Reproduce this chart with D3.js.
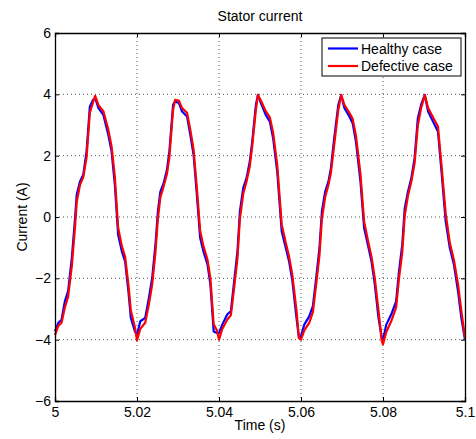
<!DOCTYPE html>
<html>
<head>
<meta charset="utf-8">
<script src="https://cdn.jsdelivr.net/npm/d3@7"></script>
<style>
  body { margin: 0; background: #fff; }
  svg text { font-family: "Liberation Sans", Arial, sans-serif; fill: #000; }
</style>
</head>
<body>
<div id="chart"></div>
<script>
////////// dados

const time = [
  5.0000, 5.0008, 5.0016, 5.0024, 5.0032, 5.0041, 5.0049, 5.0053, 5.0061, 5.0069, 5.0077, 5.0085, 5.0093, 5.0098, 5.0106, 5.0118, 5.0130, 5.0138, 5.0146, 5.0154, 5.0163, 5.0171, 5.0179, 5.0185, 5.0195,
  5.0200, 5.0208, 5.0220, 5.0229, 5.0237, 5.0245, 5.0251, 5.0257, 5.0265, 5.0273, 5.0279, 5.0288, 5.0293, 5.0302, 5.0310, 5.0322, 5.0330, 5.0338, 5.0346, 5.0354, 5.0362, 5.0372, 5.0379, 5.0387, 5.0395,
  5.0400, 5.0408, 5.0420, 5.0429, 5.0437, 5.0445, 5.0451, 5.0459, 5.0467, 5.0475, 5.0481, 5.0490, 5.0495, 5.0502, 5.0514, 5.0524, 5.0532, 5.0542, 5.0553, 5.0563, 5.0571, 5.0579, 5.0589, 5.0595,
  5.0600, 5.0608, 5.0620, 5.0629, 5.0637, 5.0645, 5.0651, 5.0659, 5.0667, 5.0673, 5.0681, 5.0691, 5.0698, 5.0706, 5.0718, 5.0726, 5.0734, 5.0745, 5.0754, 5.0763, 5.0772, 5.0780, 5.0789, 5.0797,
  5.0800, 5.0808, 5.0820, 5.0832, 5.0839, 5.0847, 5.0853, 5.0861, 5.0869, 5.0877, 5.0885, 5.0893, 5.0902, 5.0910, 5.0922, 5.0934, 5.0942, 5.0953, 5.0963, 5.0973, 5.0983, 5.0991, 5.1000
];

const healthy = [
  -3.73, -3.45, -3.35, -2.75, -2.42, -1.34, -0.03, 0.73, 1.16, 1.38, 2.14, 3.60, 3.82, 3.88, 3.55, 3.33, 2.68, 2.14, 1.05, -0.58, -1.12, -1.45, -2.42, -3.29, -3.73,
  -3.85, -3.40, -3.29, -2.64, -1.99, -0.90, 0.18, 0.83, 1.10, 1.54, 2.14, 3.66, 3.77, 3.72, 3.44, 3.28, 2.68, 2.03, 0.73, -0.68, -1.12, -1.55, -2.20, -3.73, -3.78,
  -3.78, -3.51, -3.18, -3.07, -2.09, -1.12, 0.18, 0.94, 1.26, 1.80, 2.45, 3.66, 3.98, 3.72, 3.33, 3.11, 2.57, 1.48, -0.47, -1.01, -1.45, -2.09, -3.29, -3.94,
  -3.89, -3.51, -3.24, -2.91, -1.99, -1.01, 0.18, 0.83, 1.16, 1.59, 2.57, 3.66, 3.98, 3.55, 3.28, 3.06, 2.46, 1.16, -0.36, -0.90, -1.45, -2.20, -3.29, -3.94,
  -4.00, -3.51, -3.18, -2.75, -1.77, -0.90, 0.29, 0.83, 1.26, 1.91, 3.22, 3.66, 3.98, 3.44, 3.11, 2.79, 1.59, -0.15, -1.01, -1.55, -2.42, -3.29, -4.00
];

const defective = [
  -3.85, -3.55, -3.45, -2.95, -2.60, -1.60, -0.30, 0.50, 1.05, 1.30, 1.95, 3.40, 3.75, 3.95, 3.65, 3.45, 2.85, 2.30, 1.30, -0.35, -0.95, -1.30, -2.20, -3.05, -3.60,
  -4.02, -3.65, -3.45, -2.85, -2.20, -1.15, -0.05, 0.65, 1.00, 1.40, 1.95, 3.50, 3.82, 3.80, 3.55, 3.40, 2.85, 2.20, 0.95, -0.45, -0.95, -1.40, -2.00, -3.50, -3.70,
  -4.00, -3.65, -3.35, -3.20, -2.30, -1.35, -0.05, 0.75, 1.15, 1.65, 2.30, 3.50, 3.98, 3.80, 3.45, 3.25, 2.75, 1.70, -0.25, -0.85, -1.30, -1.90, -3.05, -3.95,
  -4.00, -3.70, -3.45, -3.10, -2.20, -1.25, -0.05, 0.65, 1.05, 1.45, 2.35, 3.50, 3.98, 3.65, 3.40, 3.20, 2.65, 1.40, -0.15, -0.75, -1.30, -2.00, -3.05, -4.05,
  -4.15, -3.75, -3.40, -2.95, -2.00, -1.15, 0.05, 0.70, 1.15, 1.75, 3.00, 3.55, 3.98, 3.55, 3.25, 2.95, 1.80, 0.10, -0.85, -1.40, -2.20, -3.05, -3.95
];

const xTicks = [5, 5.02, 5.04, 5.06, 5.08, 5.1];
const xTickLabels = ['5', '5.02', '5.04', '5.06', '5.08', '5.1'];
const yTicks = [-6, -4, -2, 0, 2, 4, 6];
const yTickLabels = ['\u22126', '\u22124', '\u22122', '0', '2', '4', '6'];
const seriesNames = ['Healthy case', 'Defective case'];
const seriesColors = ['#0000ff', '#ff0000'];

////////// layout

const W = 476, H = 439;
const mLeft = 55, mRight = 465, mTop = 33, mBottom = 401;
const fontSize = 14;

const svg = d3.select('#chart')
  .append('svg')
  .attr('width', W)
  .attr('height', H);

const x = d3.scaleLinear().domain([5, 5.1]).range([mLeft, mRight]);
const y = d3.scaleLinear().domain([-6, 6]).range([mBottom, mTop]);

// grade pontilhada
svg.append('g')
  .selectAll('line')
  .data(xTicks.slice(1, -1))
  .join('line')
  .attr('x1', d => x(d)).attr('x2', d => x(d))
  .attr('y1', mTop).attr('y2', mBottom)
  .attr('stroke', '#555')
  .attr('stroke-width', 1)
  .attr('stroke-dasharray', '1,3');

svg.append('g')
  .selectAll('line')
  .data(yTicks.slice(1, -1))
  .join('line')
  .attr('x1', mLeft).attr('x2', mRight)
  .attr('y1', d => y(d)).attr('y2', d => y(d))
  .attr('stroke', '#555')
  .attr('stroke-width', 1)
  .attr('stroke-dasharray', '1,3');

// curvas
const series = [healthy, defective];
const line = d3.line()
  .x((d, i) => x(time[i]))
  .y(d => y(d));

svg.append('g')
  .selectAll('path')
  .data(series)
  .join('path')
  .attr('d', d => line(d))
  .attr('fill', 'none')
  .attr('stroke', (d, i) => seriesColors[i])
  .attr('stroke-width', 2.2)
  .attr('stroke-linejoin', 'round');

// eixos (caixa estilo matlab, ticks para dentro)
const xAxisB = d3.axisBottom(x).tickValues(xTicks).tickSize(-4).tickPadding(6)
  .tickFormat((d, i) => xTickLabels[i]);
const xAxisT = d3.axisTop(x).tickValues(xTicks).tickSize(-4).tickFormat('');
const yAxisL = d3.axisLeft(y).tickValues(yTicks).tickSize(-4).tickPadding(4)
  .tickFormat((d, i) => yTickLabels[i]);
const yAxisR = d3.axisRight(y).tickValues(yTicks).tickSize(-4).tickFormat('');

function styleAxis(g) {
  g.select('.domain').attr('stroke', '#000').attr('stroke-width', 1.3);
  g.selectAll('.tick line').attr('stroke', '#000');
  g.selectAll('.tick text')
    .attr('font-family', '"Liberation Sans", Arial, sans-serif')
    .attr('font-size', fontSize)
    .attr('fill', '#000');
}

svg.append('g').attr('transform', `translate(0,${mBottom})`).call(xAxisB).call(styleAxis);
svg.append('g').attr('transform', `translate(0,${mTop})`).call(xAxisT).call(styleAxis);
svg.append('g').attr('transform', `translate(${mLeft},0)`).call(yAxisL).call(styleAxis);
svg.append('g').attr('transform', `translate(${mRight},0)`).call(yAxisR).call(styleAxis);

// titulo e rotulos
svg.append('text')
  .attr('x', (mLeft + mRight) / 2)
  .attr('y', 21)
  .attr('text-anchor', 'middle')
  .attr('font-size', fontSize)
  .text('Stator current');

svg.append('text')
  .attr('x', (mLeft + mRight) / 2)
  .attr('y', 430)
  .attr('text-anchor', 'middle')
  .attr('font-size', fontSize)
  .text('Time (s)');

svg.append('text')
  .attr('transform', `translate(27,${(mTop + mBottom) / 2}) rotate(-90)`)
  .attr('text-anchor', 'middle')
  .attr('font-size', fontSize)
  .text('Current (A)');

// legenda
const legend = svg.append('g').attr('transform', 'translate(322,38)');

legend.append('rect')
  .attr('width', 139)
  .attr('height', 38)
  .attr('fill', '#fff')
  .attr('stroke', '#000')
  .attr('stroke-width', 1);

seriesNames.forEach((name, i) => {
  const row = legend.append('g').attr('transform', `translate(0,${10.5 + i * 17.5})`);
  row.append('line')
    .attr('x1', 6).attr('x2', 36)
    .attr('stroke', seriesColors[i])
    .attr('stroke-width', 2.2);
  row.append('text')
    .attr('x', 39)
    .attr('y', 5)
    .attr('font-size', fontSize)
    .text(name);
});
</script>
</body>
</html>
